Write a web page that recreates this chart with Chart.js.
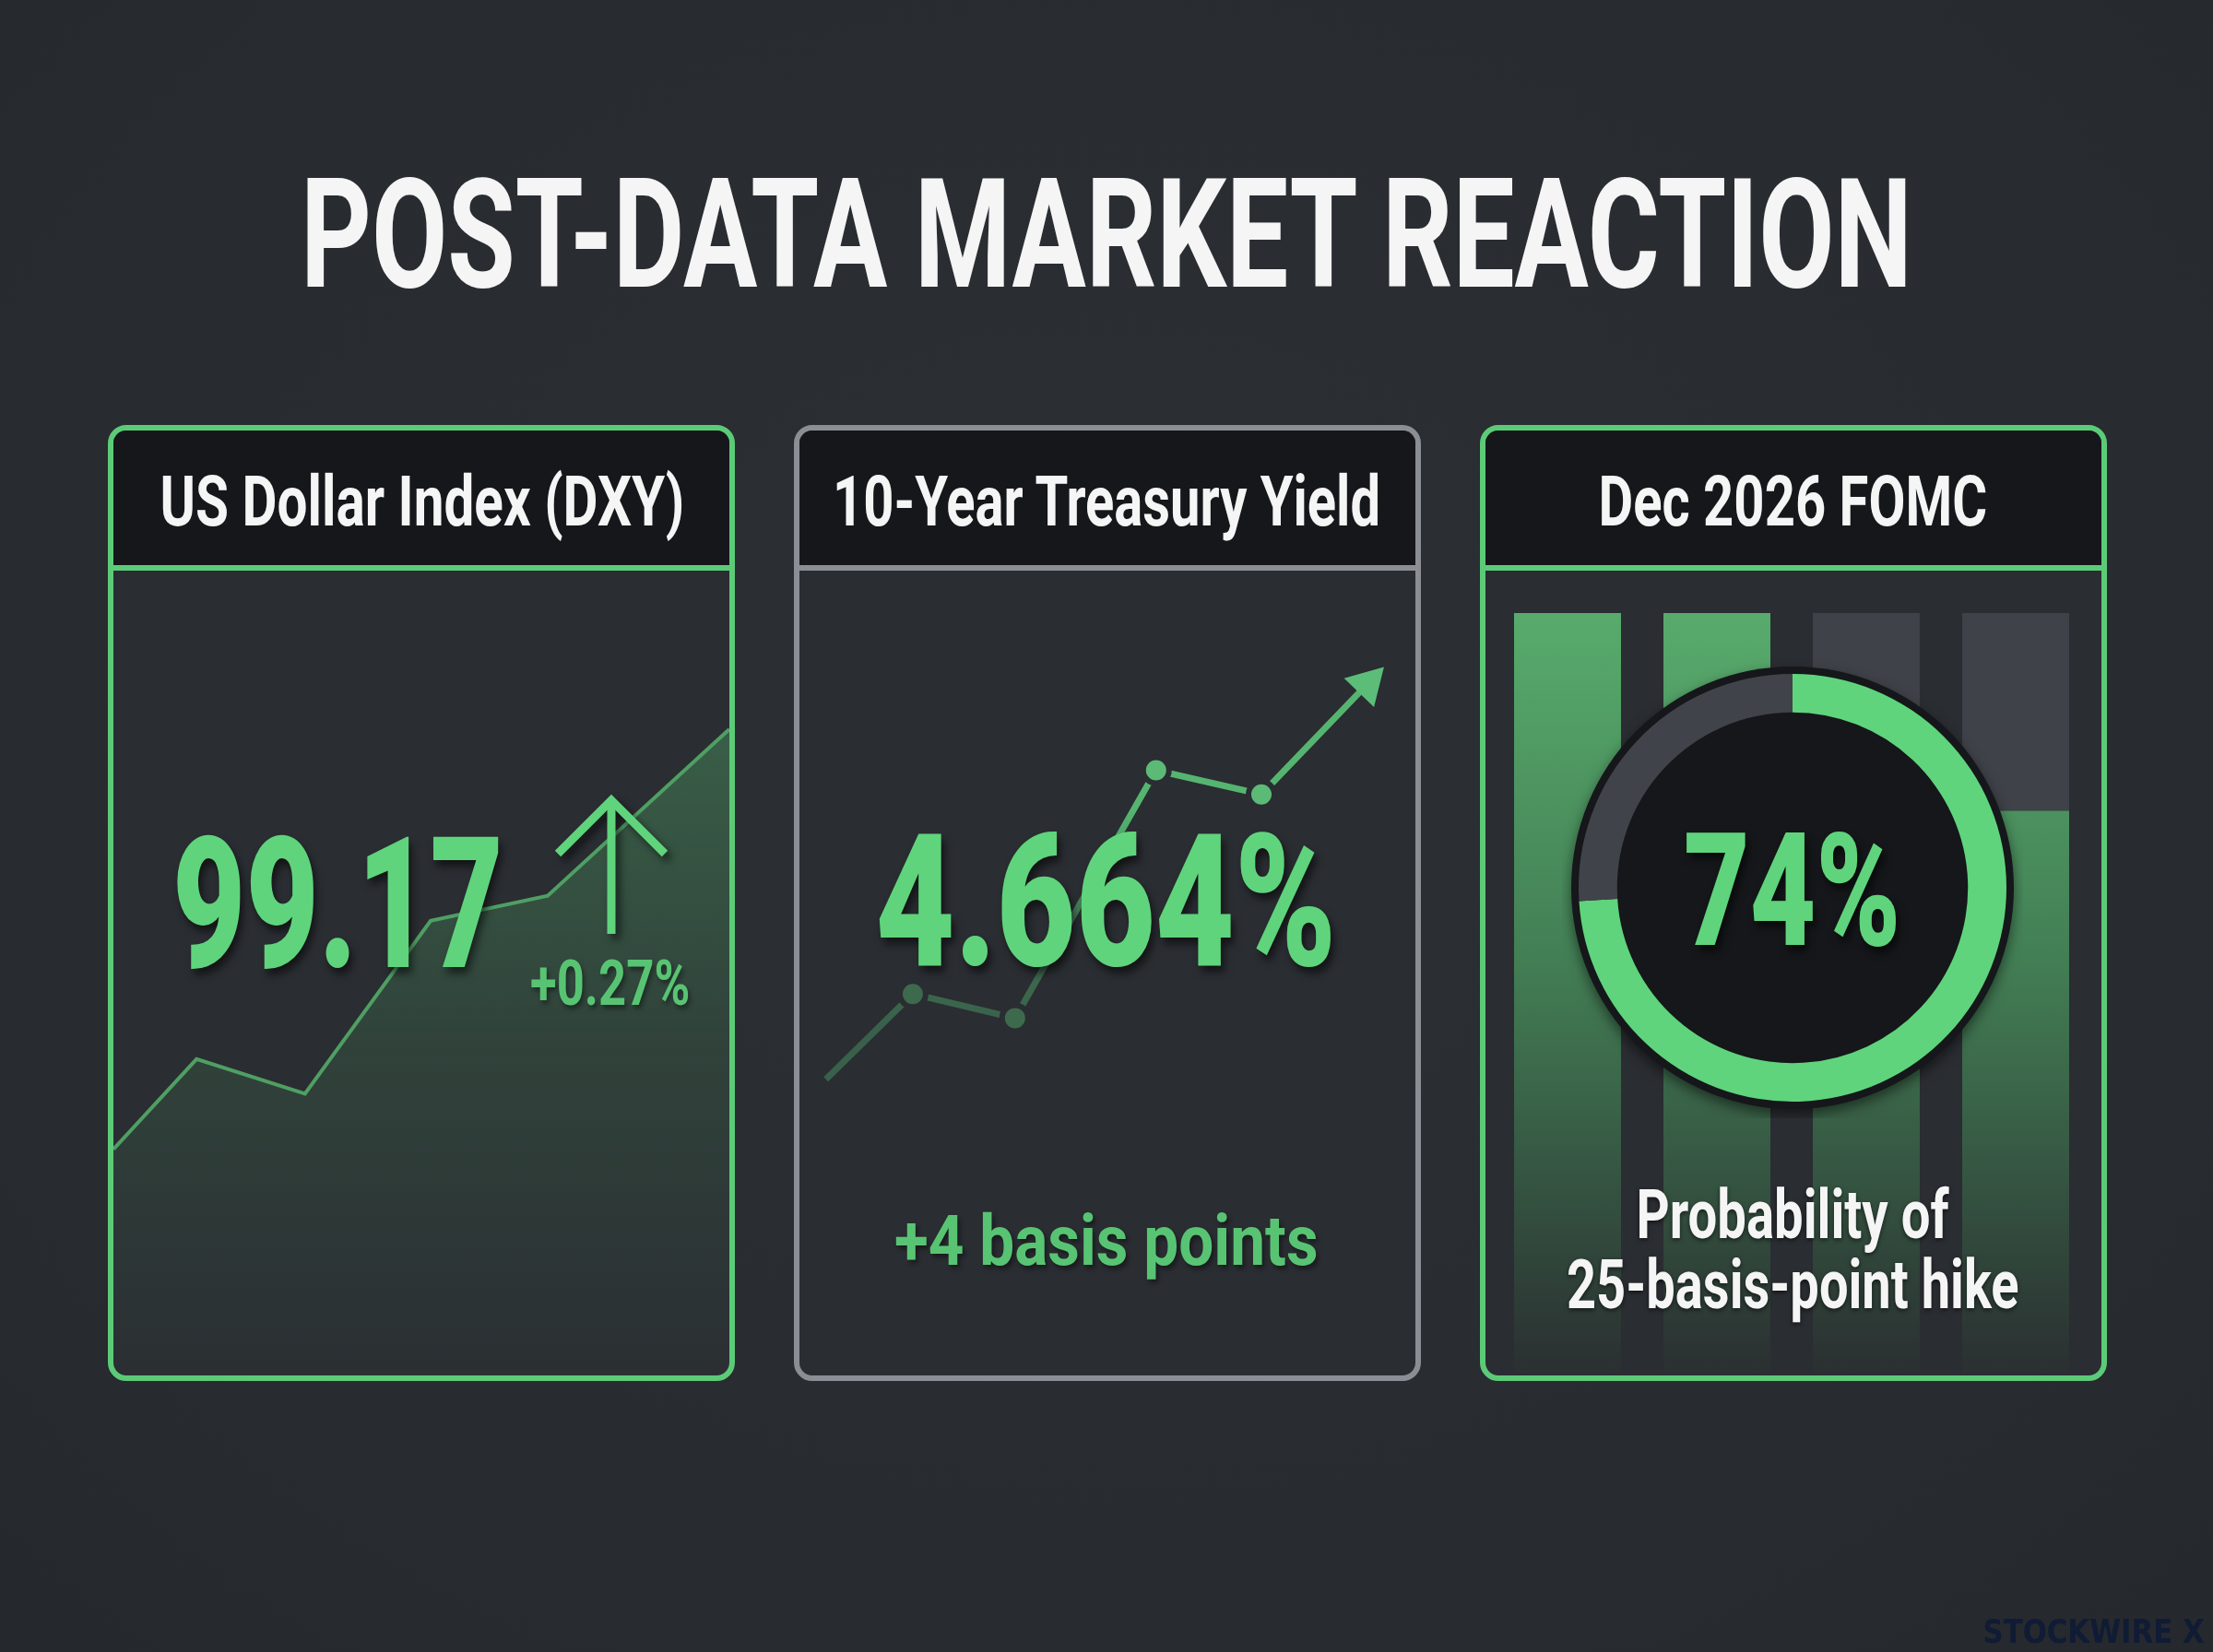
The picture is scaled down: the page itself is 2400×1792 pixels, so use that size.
<!DOCTYPE html>
<html>
<head>
<meta charset="utf-8">
<script src="https://cdn.jsdelivr.net/npm/chart.js@4.4.1/dist/chart.umd.min.js"></script>
<style>
  html, body { margin: 0; padding: 0; }
  body {
    width: 2400px; height: 1792px; position: relative; overflow: hidden;
    background: radial-gradient(ellipse at 50% 45%, #2c2f34 0%, #282b30 70%, #25282c 100%);
    font-family: Roboto, "Liberation Sans", sans-serif;
  }
  .panel {
    position: absolute; top: 461px; width: 680px; height: 1037px;
    box-sizing: border-box; border: 6px solid #5ccb78; border-radius: 20px;
    overflow: hidden; background: #2a2d32;
  }
  .panel.grey { border-color: #8b8e94; }
  .head {
    position: absolute; left: 0; top: 0; right: 0; height: 146px;
    background: #15171b; border-bottom: 6px solid #5ccb78;
  }
  .grey .head { border-bottom-color: #8b8e94; }
  .body { position: absolute; left: 0; top: 152px; right: 0; bottom: 0; }
  canvas { position: absolute; }
  .t {
    position: absolute; white-space: nowrap; font-weight: 700;
    transform-origin: 50% 50%; z-index: 5;
  }
  .white { color: #f5f5f5; }
  .green { color: #5fd47c; font-weight: 900; text-shadow: 5px 7px 10px rgba(0,0,0,0.55); }
  .green2 { color: #58c473; text-shadow: 3px 4px 6px rgba(0,0,0,0.4); }
  svg { position: absolute; left: 0; top: 0; z-index: 4; }
</style>
</head>
<body>

<div class="panel" style="left:117px">
  <div class="head"></div>
  <div class="body"><canvas id="dxy" width="668" height="873" style="left:0;top:0"></canvas></div>
</div>
<div class="panel grey" style="left:861px">
  <div class="head"></div>
  <div class="body"><canvas id="yield" width="668" height="873" style="left:0;top:0"></canvas></div>
</div>
<div class="panel" style="left:1605px">
  <div class="head"></div>
  <div class="body">
    <canvas id="bars" width="648" height="825" style="left:8px;top:46px"></canvas>
    <canvas id="donut" width="500" height="500" style="left:83px;top:94px"></canvas>
  </div>
</div>

<svg width="2400" height="1792">
  <g stroke="#5fd47c" stroke-width="9" fill="none" stroke-linecap="butt" style="filter: drop-shadow(5px 6px 4px rgba(0,0,0,0.55))">
    <line x1="663" y1="1013" x2="663" y2="870"/>
    <polyline points="605,926 663,868 721,926"/>
  </g>
</svg>

<div class="t white" data-cx="1200" data-cy="255" data-f="166" data-w="1748">POST-DATA MARKET REACTION</div>
<div class="t white" data-cx="458" data-cy="544" data-f="76" data-w="569">US Dollar Index (DXY)</div>
<div class="t white" data-cx="1200" data-cy="544" data-f="76" data-w="594">10-Year Treasury Yield</div>
<div class="t white" data-cx="1944" data-cy="544" data-f="76" data-w="422">Dec 2026 FOMC</div>
<div class="t green" data-cx="366" data-cy="981" data-f="198" data-w="359">99.17</div>
<div class="t green2" data-cx="661" data-cy="1066" data-f="69" data-w="173">+0.27%</div>
<div class="t green" data-cx="1199" data-cy="979" data-f="200" data-w="500">4.664%</div>
<div class="t green2" data-cx="1200" data-cy="1346" data-f="76" data-w="460">+4 basis points</div>
<div class="t green" data-cx="1943" data-cy="967" data-f="170" data-w="235">74%</div>
<div class="t white" data-cx="1944" data-cy="1317" data-f="75" data-w="339" style="text-shadow:0 2px 6px rgba(0,0,0,0.6)">Probability of</div>
<div class="t white" data-cx="1944" data-cy="1393" data-f="75" data-w="491" style="text-shadow:0 2px 6px rgba(0,0,0,0.6)">25-basis-point hike</div>
<div class="t" data-cx="2270" data-cy="1770" data-f="36" data-w="240" style="color:#101b35;font-family:'DejaVu Sans',sans-serif;font-weight:800">STOCKWIRE X</div>

<script>
// DXY intraday path (relative scale 0-100)
var dxyX = [0, 13.5, 31.1, 51.5, 70.5, 100];
var dxyY = [28.1, 39.3, 35.0, 56.5, 59.6, 80.3];

// 10-year yield path (relative scale 0-100)
var yieldX = [4.3, 18.4, 35.0, 57.9, 75.0, 92.2];
var yieldY = [36.8, 47.4, 44.4, 75.2, 72.2, 85.9];

// FOMC hike probability bars and gauge
var meetings = ['M1', 'M2', 'M3', 'M4'];
var hikeProb = [100, 100, 85, 74];
var gaugeValues = [74, 26];

Chart.defaults.animation = false;
Chart.defaults.responsive = false;
Chart.defaults.devicePixelRatio = 1;
Chart.defaults.plugins.legend.display = false;
Chart.defaults.plugins.tooltip.enabled = false;

function pts(xs, ys) {
    return xs.map(function (x, i) { return { x: x, y: ys[i] }; });
}

var hiddenScales = {
    x: { type: 'linear', min: 0, max: 100, display: false },
    y: { min: 0, max: 100, display: false }
};

// DXY area chart
new Chart(document.getElementById('dxy'), {
    type: 'line',
    data: {
        datasets: [{
            data: pts(dxyX, dxyY),
            borderColor: '#4f9f63',
            borderWidth: 4,
            pointRadius: 0,
            tension: 0,
            fill: 'start',
            backgroundColor: function (ctx) {
                var a = ctx.chart.chartArea;
                if (!a) return 'rgba(0,0,0,0)';
                var g = ctx.chart.ctx.createLinearGradient(0, a.top + 150, 0, a.bottom);
                g.addColorStop(0, 'rgba(84,180,108,0.38)');
                g.addColorStop(0.5, 'rgba(84,180,108,0.16)');
                g.addColorStop(1, 'rgba(84,180,108,0.02)');
                return g;
            }
        }]
    },
    options: { layout: { padding: 0, autoPadding: false }, scales: hiddenScales }
});

// Treasury yield line with markers
new Chart(document.getElementById('yield'), {
    type: 'line',
    data: {
        datasets: [{
            data: pts(yieldX, yieldY),
            borderWidth: 7,
            tension: 0,
            borderColor: function (ctx) {
                var a = ctx.chart.chartArea;
                if (!a) return '#55b36f';
                var g = ctx.chart.ctx.createLinearGradient(0, 500, 0, 260);
                g.addColorStop(0, '#39604a');
                g.addColorStop(0.45, '#3f7050');
                g.addColorStop(1, '#55b570');
                return g;
            },
            pointRadius: [0, 14, 14, 14, 14, 26],
            pointStyle: ['circle', 'circle', 'circle', 'circle', 'circle', 'triangle'],
            pointRotation: [0, 0, 0, 0, 0, 44],
            pointBackgroundColor: ['#3d6a4c', '#3d6a4c', '#3d6a4c', '#5cba77', '#5cba77', '#5cbd78'],
            pointBorderColor: ['#2a2d32', '#2a2d32', '#2a2d32', '#2a2d32', '#2a2d32', '#5cbd78'],
            pointBorderWidth: [0, 6, 6, 6, 6, 0]
        }]
    },
    options: { layout: { padding: 0, autoPadding: false }, clip: false, scales: hiddenScales }
});

// Stacked probability bars
new Chart(document.getElementById('bars'), {
    type: 'bar',
    data: {
        labels: meetings,
        datasets: [{
            data: hikeProb,
            backgroundColor: function (ctx) {
                var a = ctx.chart.chartArea;
                if (!a) return '#55a86a';
                var g = ctx.chart.ctx.createLinearGradient(0, a.top, 0, a.bottom);
                g.addColorStop(0, '#58ab6c');
                g.addColorStop(0.45, '#437f55');
                g.addColorStop(0.85, '#30453a');
                g.addColorStop(1, '#2b2f31');
                return g;
            },
            barPercentage: 0.716,
            categoryPercentage: 1
        }, {
            data: hikeProb.map(function (v) { return 100 - v; }),
            backgroundColor: '#3f4249',
            barPercentage: 0.716,
            categoryPercentage: 1
        }]
    },
    options: {
        layout: { padding: 0, autoPadding: false },
        scales: {
            x: { stacked: true, display: false },
            y: { stacked: true, min: 0, max: 100, display: false }
        }
    }
});

// Probability gauge
var ringBackdrop = {
    id: 'ringBackdrop',
    beforeDatasetsDraw: function (chart) {
        var arc = chart.getDatasetMeta(0).data[0];
        if (!arc) return;
        var c = chart.ctx;
        c.save();
        c.shadowColor = 'rgba(0,0,0,0.5)';
        c.shadowBlur = 14;
        c.shadowOffsetY = 6;
        c.beginPath();
        c.arc(arc.x, arc.y, arc.outerRadius + 8, 0, Math.PI * 2);
        c.fillStyle = '#15171a';
        c.fill();
        c.restore();
    }
};

new Chart(document.getElementById('donut'), {
    type: 'doughnut',
    data: {
        labels: ['Hike', 'No hike'],
        datasets: [{
            data: gaugeValues,
            backgroundColor: ['#5fd47c', '#40434a'],
            borderWidth: 0
        }]
    },
    options: {
        layout: { padding: 18 },
        cutout: '82%'
    },
    plugins: [ringBackdrop]
});

// fit text labels to their measured widths
function placeText() {
    document.querySelectorAll('.t').forEach(function (el) {
        var cx = +el.dataset.cx, cy = +el.dataset.cy, f = +el.dataset.f, w = +el.dataset.w;
        el.style.fontSize = f + 'px';
        el.style.lineHeight = f + 'px';
        el.style.top = (cy - f / 2) + 'px';
        el.style.transform = 'none';
        var nw = el.offsetWidth;
        el.style.left = (cx - nw / 2) + 'px';
        el.style.transform = 'scaleX(' + (w / nw) + ')';
    });
}
placeText();
if (document.fonts && document.fonts.ready) document.fonts.ready.then(placeText);
</script>
</body>
</html>
